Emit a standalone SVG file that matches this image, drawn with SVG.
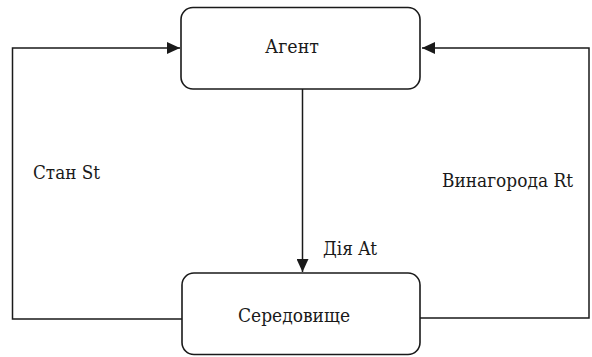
<svg xmlns="http://www.w3.org/2000/svg" width="592" height="357" viewBox="0 0 592 357">
<style>
.box{fill:#fff;stroke:#1a1a1a;stroke-width:1.6}
.ln{fill:none;stroke:#1a1a1a;stroke-width:1.5}
text{font-family:'DejaVu Serif','Liberation Serif',serif;font-size:19px;fill:#1a1a1a}
</style>
<defs>
<marker id="ah" markerWidth="14" markerHeight="12" refX="13" refY="6" orient="auto" markerUnits="userSpaceOnUse">
<path d="M0,0 L13,6 L0,12 Z" fill="#1a1a1a"/>
</marker>
</defs>
<g id="connectors">
<polyline class="ln" points="182,319 12.5,319 12.5,48 180,48" marker-end="url(#ah)"/>
<polyline class="ln" points="420,318 589,318 589,48 422,48" marker-end="url(#ah)"/>
<line class="ln" x1="302.5" y1="89" x2="302.5" y2="272" marker-end="url(#ah)"/>
<text x="33" y="179" textLength="67" lengthAdjust="spacingAndGlyphs">Стан St</text>
<text x="442" y="187" textLength="131" lengthAdjust="spacingAndGlyphs">Винагорода Rt</text>
<text x="323" y="255" textLength="54" lengthAdjust="spacingAndGlyphs">Дія At</text>
</g>
<g id="agent">
<rect class="box" x="181" y="7.5" width="239" height="81.5" rx="12"/>
<text x="265" y="53" textLength="54" lengthAdjust="spacingAndGlyphs">Агент</text>
</g>
<g id="environment">
<rect class="box" x="182" y="273" width="238" height="81.5" rx="12"/>
<text x="238" y="322" textLength="112" lengthAdjust="spacingAndGlyphs">Середовище</text>
</g>
</svg>
